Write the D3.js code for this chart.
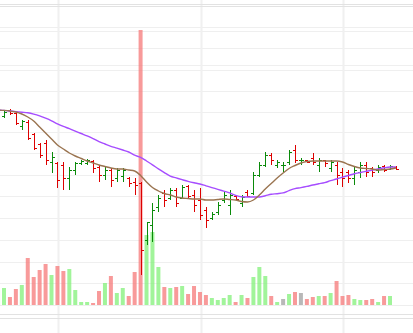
<!DOCTYPE html>
<html><head><meta charset="utf-8">
<script src="https://cdn.jsdelivr.net/npm/d3@7"></script>
<style>html,body{margin:0;padding:0;background:#fff;overflow:hidden}</style>
</head><body>
<svg id="chart" width="413" height="333"></svg>
<script>
// Daily OHLC bars (first entry sits just off the left edge), rows of ten
const opens  = [20.9,
  20.4,21.0,20.7,19.4,19.8,18.6,17.6,17.7,15.8,15.7,
  15.5,14.2,15.0,15.7,15.7,15.9,15.3,14.5,15.0,14.2,
  14.4,14.2,13.8,13.7,8.0,9.5,11.3,12.7,12.2,13.0,
  12.2,13.4,12.5,12.0,11.0,10.2,10.8,12.0,11.5,12.4,
  11.7,12.8,12.7,14.5,15.5,16.5,15.5,15.5,15.8,17.0,
  16.0,16.0,16.2,15.5,16.0,15.2,15.5,14.8,14.8,14.2,
  14.8,15.5,15.2,15.0,15.4,15.1,15.3];
const highs  = [21.1,
  21.0,21.1,20.8,20.0,20.0,18.7,17.7,18.0,16.8,15.8,
  15.8,15.3,15.8,16.0,16.1,16.0,15.5,15.3,15.2,15.2,
  15.2,14.3,14.2,13.8,9.8,11.7,12.5,13.0,13.2,13.2,
  13.5,13.5,13.0,13.2,11.3,10.8,11.8,12.8,13.0,12.5,
  12.5,13.0,14.8,15.8,16.8,16.7,16.0,15.8,17.0,17.5,
  16.2,16.0,16.7,16.2,16.0,16.0,15.8,15.2,15.0,15.3,
  15.8,15.8,15.3,15.5,15.5,15.5,15.4];
const lows   = [20.7,
  20.2,20.5,19.5,19.0,18.0,17.0,16.2,15.5,14.7,13.2,
  13.0,13.0,14.5,15.5,15.5,14.7,13.8,14.0,13.3,13.8,
  13.8,13.3,12.5,4.5,7.5,7.8,10.8,11.3,12.0,11.3,
  12.2,12.2,10.8,10.0,9.2,10.0,10.5,11.7,10.5,12.0,
  11.3,12.3,12.5,14.3,15.3,15.5,15.2,14.8,15.5,15.7,
  15.5,15.7,15.5,14.8,15.3,14.8,13.5,13.3,13.7,13.5,
  14.2,14.3,14.3,14.7,14.8,15.0,15.0];
const closes = [21.0,
  20.8,20.7,19.7,19.9,18.2,17.2,16.5,16.0,16.3,14.0,
  14.2,15.0,15.7,15.9,16.0,15.2,14.5,15.0,14.0,15.0,
  15.0,13.7,13.5,7.0,9.8,11.0,12.2,12.0,13.0,11.7,
  13.3,12.4,11.5,10.5,10.0,10.6,11.5,12.5,12.5,12.1,
  12.3,12.4,14.5,15.5,16.5,16.0,15.8,15.5,16.8,16.0,
  16.0,15.8,15.8,16.0,15.7,15.8,14.5,14.2,14.2,15.0,
  15.5,14.8,14.8,15.3,15.0,15.4,15.1];
const volumes = [150,
  170,80,160,200,470,280,350,410,300,390,
  340,360,150,30,30,20,140,220,290,120,
  170,90,330,2750,700,730,380,180,170,180,
  190,110,190,130,100,70,50,70,100,30,
  100,70,280,380,290,90,30,60,110,130,
  120,60,80,90,90,120,240,90,100,60,
  50,50,60,30,90,90,0];
// Short and long moving averages of the close
const maShort = [21.0,
  20.96,20.9,20.8,20.6,20.3,19.9,19.3,18.7,18.1,17.5,
  17.1,16.7,16.4,16.15,15.9,15.7,15.5,15.35,15.2,15.1,
  15.1,15.0,14.9,14.45,13.8,13.25,12.9,12.65,12.5,12.3,
  12.2,12.15,12.1,12.1,12.0,12.0,12.05,12.1,12.05,12.0,
  11.85,11.8,12.0,12.5,13.1,13.65,14.2,14.7,15.15,15.45,
  15.7,15.85,15.9,15.9,15.9,15.9,15.9,15.8,15.55,15.35,
  15.2,15.15,15.1,15.0,15.05,15.1,15.2];
const maLong = [21.0,
  20.96,20.9,20.84,20.78,20.72,20.59,20.41,20.18,19.92,19.62,
  19.36,19.13,18.89,18.65,18.41,18.14,17.84,17.6,17.37,17.19,
  17.0,16.8,16.48,16.26,15.9,15.52,15.11,14.74,14.39,14.21,
  14.03,13.86,13.72,13.6,13.42,13.24,13.07,12.89,12.71,12.46,
  12.32,12.3,12.3,12.3,12.43,12.57,12.63,12.71,12.94,13.14,
  13.24,13.36,13.5,13.62,13.74,13.93,14.1,14.29,14.45,14.63,
  14.75,14.87,14.99,15.1,15.22,15.3,15.3];
// Horizontal grid levels (price units)
const gridPrices = [29.3, 28.9, 27.2, 25.5, 25.0, 22.9, 20.8, 18.8, 16.7, 14.5, 12.4, 10.2, 8.0, 5.8, 3.7];

const W = 413, H = 333;
const svg = d3.select('#chart');
const n = closes.length;

const x = d3.scaleLinear().domain([1, 66]).range([4, 390]);
const y = d3.scaleLinear().domain([0, 32]).range([320, 0]);
const yVol = d3.scaleLinear().domain([0, 500]).range([305, 255]);

const UP = '#0a8a0a', DOWN = '#dd0000';
const VUP = 'rgba(130,240,120,0.75)', VDOWN = 'rgba(245,120,120,0.75)', VFLAT = 'rgba(160,160,160,0.75)';

// grid
const grid = svg.append('g');
grid.selectAll('line.h').data(gridPrices).join('line')
  .attr('x1', 0).attr('x2', W)
  .attr('y1', d => Math.round(y(d)) + 0.5).attr('y2', d => Math.round(y(d)) + 0.5)
  .attr('stroke', '#efefef');
[58, 201, 343].forEach(px => grid.append('line')
  .attr('x1', px + 0.5).attr('x2', px + 0.5).attr('y1', 0).attr('y2', H)
  .attr('stroke', '#f0f0f0').attr('stroke-width', 2));
[4, 6, 314, 318].forEach(py => grid.append('line')
  .attr('x1', 0).attr('x2', W).attr('y1', py + 0.5).attr('y2', py + 0.5)
  .attr('stroke', '#e2e2e2'));
grid.append('line').attr('x1', 0).attr('x2', W).attr('y1', 305.5).attr('y2', 305.5)
  .attr('stroke', '#eeeeee');

const idx = d3.range(n);
const dir = i => closes[i] > opens[i] ? 1 : closes[i] < opens[i] ? -1 : 0;

// volume
svg.append('g').selectAll('rect').data(idx).join('rect')
  .attr('x', i => x(i) - 2).attr('width', 4)
  .attr('y', i => yVol(volumes[i])).attr('height', i => yVol(0) - yVol(volumes[i]))
  .attr('fill', i => dir(i) > 0 ? VUP : dir(i) < 0 ? VDOWN : VFLAT);

// OHLC bars
const bars = svg.append('g').selectAll('g').data(idx).join('g')
  .attr('stroke', i => dir(i) < 0 ? DOWN : UP).attr('stroke-width', 1);
bars.append('line')
  .attr('x1', i => Math.round(x(i)) + 0.5).attr('x2', i => Math.round(x(i)) + 0.5)
  .attr('y1', i => y(highs[i])).attr('y2', i => y(lows[i]));
bars.append('line')
  .attr('x1', i => Math.round(x(i)) - 2).attr('x2', i => Math.round(x(i)) + 0.5)
  .attr('y1', i => Math.round(y(opens[i])) + 0.5).attr('y2', i => Math.round(y(opens[i])) + 0.5);
bars.append('line')
  .attr('x1', i => Math.round(x(i)) + 0.5).attr('x2', i => Math.round(x(i)) + 3)
  .attr('y1', i => Math.round(y(closes[i])) + 0.5).attr('y2', i => Math.round(y(closes[i])) + 0.5);

// moving averages
const line = arr => d3.line().x(i => x(i)).y(i => y(arr[i])).curve(d3.curveMonotoneX)(idx);
svg.append('path').attr('d', line(maLong)).attr('fill', 'none')
  .attr('stroke', '#a64dff').attr('stroke-width', 1.4);
svg.append('path').attr('d', line(maShort)).attr('fill', 'none')
  .attr('stroke', '#9a7450').attr('stroke-width', 1.4);
</script>
</body></html>
